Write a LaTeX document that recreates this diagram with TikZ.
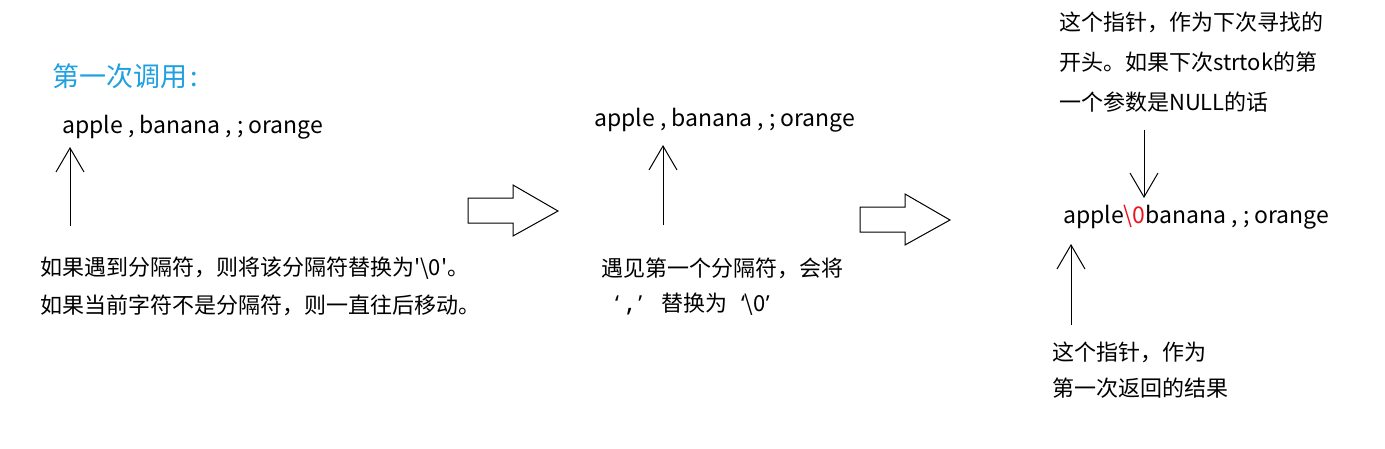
\documentclass[tikz,border=0pt]{standalone}
\usepackage{fontspec}
\newfontfamily\cjk{Noto Sans CJK SC}
\newfontfamily\quotefont{Noto Sans}
\usetikzlibrary{arrows.meta}
\definecolor{titleblue}{RGB}{30,160,225}
\definecolor{zerored}{RGB}{235,20,30}
\newcommand{\lat}[1]{{\fontsize{23}{23}\selectfont #1}}
\newcommand{\qq}[1]{{\quotefont #1}}
\tikzset{
  txt/.style={anchor=west, inner sep=0pt, font=\cjk\fontsize{22}{22}\selectfont},
  ptr/.style={line width=1pt, -{Straight Barb[length=24pt,width=28pt,line width=1pt]}},
  blockarrow/.style={draw, line width=1pt, fill=white},
}
\begin{document}
\begin{tikzpicture}[x=1pt,y=-1pt]
\useasboundingbox (0,0) rectangle (1385,448);
% stage 1
\node[txt, text=titleblue, font=\cjk\fontsize{27}{27}\selectfont] (title) at (52,76) {第一次调用\kern3pt:};
\node[txt] (s1) at (62,127) {\lat{apple , banana , ; orange}};
\coordinate (p1) at (70,226);
\coordinate (p1t) at (70,147);
\draw[ptr] (p1) -- (p1t);
\node[txt] (n1a) at (40,268) {如果遇到分隔符，则将该分隔符替换为'\textbackslash 0'。};
\node[txt] (n1b) at (40,305) {如果当前字符不是分隔符，则一直往后移动。};
% block arrow 1
\draw[blockarrow] (468,198) -- (513,198) -- (513,185) -- (558,211) -- (513,236) -- (513,223) -- (468,223) -- cycle;
% stage 2
\node[txt] (s2) at (594,120) {\lat{apple , banana , ; orange}};
\coordinate (p2) at (663,225);
\coordinate (p2t) at (663,145);
\draw[ptr] (p2) -- (p2t);
\node[txt] (n2a) at (601,268) {遇见第一个分隔符，会将};
\node[txt] (n2b) at (615,304) {\qq{‘\kern7pt{\fontsize{27}{27}\selectfont ,}\kern5pt’}\hspace{19pt}替换为\hspace{14pt}\qq{‘}\textbackslash 0\qq{’}};
% block arrow 2
\draw[blockarrow] (860,207) -- (905,207) -- (905,194) -- (950,220) -- (905,245) -- (905,232) -- (860,232) -- cycle;
% stage 3
\node[txt] (n3a) at (1059,22) {这个指针，作为下次寻找的};
\node[txt] (n3b) at (1059,62) {开头。如果下次strtok的第};
\node[txt] (n3c) at (1059,102) {一个参数是NULL的话};
\node[txt] (s3) at (1063,217) {\lat{apple\textcolor{zerored}{\textbackslash 0}banana , ; orange}};
\coordinate (q1) at (1144,130);
\coordinate (q1t) at (1144,198);
\draw[ptr] (q1) -- (q1t);
\coordinate (q2) at (1071,325);
\coordinate (q2t) at (1071,244);
\draw[ptr] (q2) -- (q2t);
\node[txt] (n4a) at (1052,352) {这个指针，作为};
\node[txt] (n4b) at (1052,388) {第一次返回的结果};
\end{tikzpicture}
\end{document}
